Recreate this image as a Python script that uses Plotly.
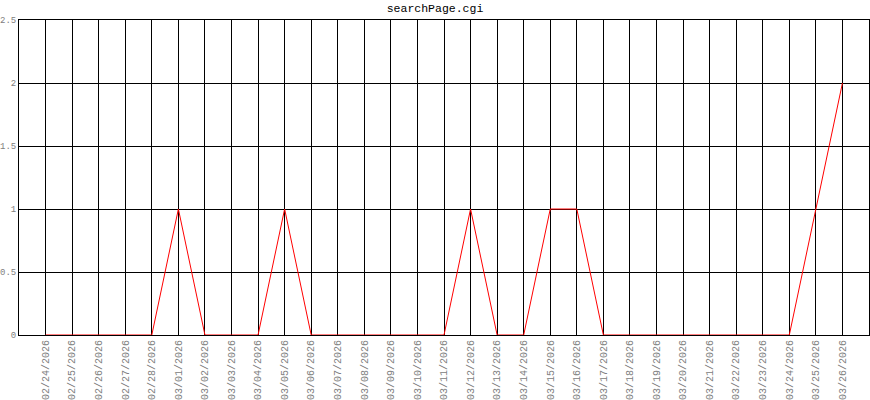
import plotly.graph_objects as go

dates = ["02/24/2026", "02/25/2026", "02/26/2026", "02/27/2026", "02/28/2026",
         "03/01/2026", "03/02/2026", "03/03/2026", "03/04/2026", "03/05/2026",
         "03/06/2026", "03/07/2026", "03/08/2026", "03/09/2026", "03/10/2026",
         "03/11/2026", "03/12/2026", "03/13/2026", "03/14/2026", "03/15/2026",
         "03/16/2026", "03/17/2026", "03/18/2026", "03/19/2026", "03/20/2026",
         "03/21/2026", "03/22/2026", "03/23/2026", "03/24/2026", "03/25/2026",
         "03/26/2026"]
hits = [0, 0, 0, 0, 0, 1, 0, 0, 0, 1, 0, 0, 0, 0, 0, 0, 1, 0, 0, 1, 1,
        0, 0, 0, 0, 0, 0, 0, 0, 1, 2]
y_ticks = [0, 0.5, 1, 1.5, 2, 2.5]

idx = list(range(len(dates)))
mono = "Liberation Mono"

fig = go.Figure()
fig.add_trace(go.Scatter(x=idx, y=hits, mode="lines", line=dict(color="#ff0000", width=1),
                         showlegend=False, hoverinfo="skip"))

fig.update_xaxes(range=[-1, len(dates)], tickvals=idx, ticktext=dates, tickangle=-90,
                 showgrid=True, gridcolor="black", gridwidth=1, zeroline=False,
                 showline=True, linecolor="black", linewidth=1, mirror=True,
                 ticks="", automargin=False,
                 tickfont=dict(family=mono, size=10, color="#808080"))
fig.update_yaxes(range=[0, 2.5], tickvals=y_ticks, ticktext=["0", "0.5", "1", "1.5", "2", "2.5"],
                 showgrid=True, gridcolor="black", gridwidth=1, zeroline=False,
                 showline=True, linecolor="black", linewidth=1, mirror=True,
                 ticks="", automargin=False,
                 tickfont=dict(family=mono, size=9, color="#808080"))
fig.update_layout(width=870, height=400, margin=dict(l=19, r=1, t=20, b=65),
                  plot_bgcolor="white", paper_bgcolor="white",
                  title=dict(text="searchPage.cgi", x=0.5, xanchor="center", y=0.99, yanchor="top",
                             font=dict(family=mono, size=11.5, color="black")))

fig.write_html("out.html", config={"displayModeBar": False},
               post_script="document.body.style.margin='0';")
